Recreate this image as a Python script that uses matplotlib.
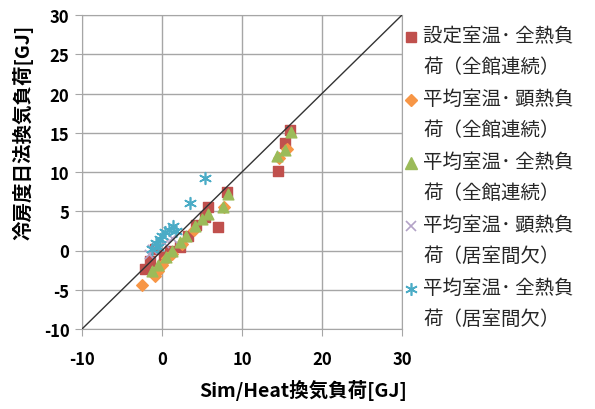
import matplotlib.pyplot as plt
from matplotlib.lines import Line2D
import numpy as np

plt.rcParams['font.family'] = ['Noto Sans CJK JP', 'DejaVu Sans']
plt.rcParams['axes.unicode_minus'] = False

# 設定室温・全熱負荷（全館連続）
red_x = [-2.1, -1.5, -0.9, 0.2, 1.0, 2.2, 3.2, 4.3, 5.4, 5.8, 7.0, 8.1, 14.5, 15.4, 16.0]
red_y = [-2.4, -1.4, 0.2, -0.8, 0.0, 0.4, 1.8, 3.2, 4.3, 5.5, 3.0, 7.5, 10.1, 13.7, 15.3]
# 平均室温・顕熱負荷（全館連続）
ora_x = [-2.5, -0.9, -0.5, 0.0, 0.6, 1.2, 2.5, 4.0, 7.8, 14.6, 15.6]
ora_y = [-4.4, -3.2, -2.6, -1.8, -1.0, -0.4, 0.8, 2.6, 5.6, 11.8, 12.9]
# 平均室温・全熱負荷（全館連続）
grn_x = [-1.3, -0.5, 0.5, 1.3, 2.3, 3.0, 4.1, 5.0, 5.7, 7.6, 8.2, 14.4, 15.4, 16.1]
grn_y = [-2.6, -1.8, -0.8, 0.0, 1.1, 1.8, 3.1, 4.0, 4.6, 5.5, 7.2, 12.0, 12.8, 15.1]
# 平均室温・顕熱負荷（居室間欠）
lav_x = [-1.6, -1.2, -0.8, 0.3, 1.2]
lav_y = [-0.4, 0.2, 0.7, 1.0, 1.6]
# 平均室温・全熱負荷（居室間欠）
cyn_x = [-1.2, -0.8, -0.5, -0.3, 0.0, 0.4, 0.9, 1.4, 1.8, 3.5, 5.4]
cyn_y = [0.2, 0.9, 0.5, 1.5, 1.8, 2.3, 2.6, 3.1, 2.5, 6.0, 9.2]

labels = ['設定室温･ 全熱負\n荷（全館連続）', '平均室温･ 顕熱負\n荷（全館連続）',
          '平均室温･ 全熱負\n荷（全館連続）', '平均室温･ 顕熱負\n荷（居室間欠）',
          '平均室温･ 全熱負\n荷（居室間欠）']

fig = plt.figure(figsize=(5.95, 4.10), dpi=100)
ax = fig.add_axes([82/595, 80/410, 320/595, 314/410])

styles = [
    dict(marker='s', s=55, color='#C0504D'),
    dict(marker='D', s=35, color='#F79646'),
    dict(marker='^', s=60, color='#9BBB59'),
    dict(marker='x', s=45, color='#B3A2C7', linewidths=1.2),
    dict(marker=(6, 2, 0), s=70, color='#4BACC6', linewidths=1.2),
]
series = [(red_x, red_y), (ora_x, ora_y), (grn_x, grn_y), (lav_x, lav_y), (cyn_x, cyn_y)]
for (xs, ys), st in zip(series, styles):
    ax.scatter(xs, ys, zorder=3, **st)

ax.plot([-10, 30], [-10, 30], color='#333333', lw=1.0, zorder=4)

ax.set_xlim(-10, 30)
ax.set_ylim(-10, 30)
ax.set_xticks(np.arange(-10, 31, 10))
ax.set_yticks(np.arange(-10, 31, 5))
ax.grid(True, color='#a6a6a6', lw=1.0)
ax.set_axisbelow(True)
for sp in ax.spines.values():
    sp.set_color('#a6a6a6')
ax.tick_params(direction='out', length=5, color='#a6a6a6', labelsize=12, pad=4)
for t in ax.get_xticklabels() + ax.get_yticklabels():
    t.set_fontweight('bold')
ax.tick_params(axis='x', pad=10)

ax.set_xlabel('Sim/Heat換気負荷[GJ]', fontsize=14, fontweight='bold')
ax.xaxis.set_label_coords(0.69, -0.16)
ax.set_ylabel('冷房度日法換気負荷[GJ]', fontsize=14, fontweight='bold')
ax.yaxis.set_label_coords(-0.15, 0.63)

# legend drawn by hand so the marker sits on the first line of each label
for i, (lab, st) in enumerate(zip(labels, styles)):
    y0 = 1 - (38 + 63 * i) / 410
    ms = {'s': 7.5, 'D': 6, '^': 8, 'x': 7}.get(st['marker'], 8) if isinstance(st['marker'], str) else 9
    fig.add_artist(Line2D([411/595], [y0], marker=st['marker'], color=st['color'],
                          markersize=ms, mew=st.get('linewidths', 1.0), ls='none',
                          transform=fig.transFigure))
    fig.text(423/595, y0 + 12/410, lab, fontsize=14, va='top', ha='left',
             linespacing=1.6, color='#262626')

plt.savefig('out.png')
plt.close()
